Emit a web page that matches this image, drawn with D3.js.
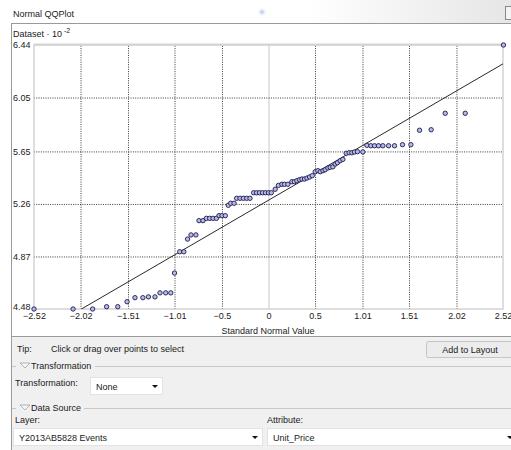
<!DOCTYPE html>
<html>
<head>
<meta charset="utf-8">
<script src="https://cdn.jsdelivr.net/npm/d3@7"></script>
<style>
  body { margin: 0; background: #fff; }
  svg { display: block; font-family: "Liberation Sans", Arial, sans-serif; }
  .grid line { stroke: #3a3a3a; stroke-dasharray: 1,1.3; stroke-width: 1; }
  .grid .zero line { stroke: #c8c8c8; stroke-dasharray: none; }
  .ui { font-size: 9px; fill: #1a1a1a; }
</style>
</head>
<body>
<svg id="chart" width="511" height="450"></svg>
<script>
// theoretical normal quantiles (x) and sorted dataset values (y, x 10^-2)
var qx = [-2.52, -2.10, -1.89, -1.74, -1.62, -1.52, -1.435, -1.35, -1.29, -1.22,
  -1.166, -1.105, -1.05, -1.01, -0.954, -0.91, -0.87, -0.833, -0.78, -0.747,
  -0.704, -0.668, -0.632, -0.596, -0.56, -0.532, -0.50, -0.464, -0.432, -0.406,
  -0.37, -0.342, -0.306, -0.27, -0.234, -0.199, -0.16, -0.128, -0.096, -0.064,
  -0.032, 0.0, 0.03, 0.072, 0.107, 0.144, 0.172, 0.208, 0.251, 0.279,
  0.305, 0.333, 0.359, 0.387, 0.413, 0.441, 0.47, 0.502, 0.531, 0.556,
  0.585, 0.609, 0.638, 0.663, 0.692, 0.717, 0.741, 0.77, 0.799, 0.835,
  0.867, 0.896, 0.924, 0.956, 1.014, 1.057, 1.10, 1.139, 1.182, 1.229,
  1.29, 1.354, 1.44, 1.53, 1.623, 1.748, 1.899, 2.114, 2.525];
var qy = [4.48, 4.48, 4.48, 4.497, 4.497, 4.534, 4.564, 4.564, 4.57, 4.57,
  4.60, 4.60, 4.60, 4.747, 4.905, 4.905, 4.999, 5.03, 5.03, 5.136,
  5.136, 5.153, 5.153, 5.153, 5.153, 5.173, 5.173, 5.173, 5.25, 5.265,
  5.265, 5.302, 5.302, 5.302, 5.302, 5.302, 5.343, 5.343, 5.343, 5.343,
  5.343, 5.343, 5.343, 5.369, 5.398, 5.406, 5.406, 5.406, 5.425, 5.425,
  5.432, 5.44, 5.445, 5.445, 5.452, 5.46, 5.47, 5.499, 5.507, 5.499,
  5.507, 5.514, 5.527, 5.532, 5.536, 5.556, 5.566, 5.581, 5.591, 5.636,
  5.64, 5.64, 5.646, 5.648, 5.646, 5.695, 5.692, 5.692, 5.692, 5.692,
  5.692, 5.692, 5.70, 5.70, 5.807, 5.811, 5.933, 5.933, 6.44];

// reference line endpoints
var refX = [-2.52, 2.52];
var refY = [4.275, 6.30];

var xTicks = [-2.52, -2.02, -1.51, -1.01, -0.5, 0, 0.5, 1.01, 1.51, 2.02, 2.52];
var yTicks = [4.48, 4.87, 5.26, 5.65, 6.05, 6.44];

const svg = d3.select("#chart");

// ---- window chrome ----
const defs = svg.append("defs");
const hg = defs.append("linearGradient").attr("id", "hdr");
hg.append("stop").attr("offset", "0%").attr("stop-color", "#ffffff");
hg.append("stop").attr("offset", "60%").attr("stop-color", "#ffffff");
hg.append("stop").attr("offset", "100%").attr("stop-color", "#e6e6e6");
const glow = defs.append("radialGradient").attr("id", "glow");
glow.append("stop").attr("offset", "0%").attr("stop-color", "#aab8f0");
glow.append("stop").attr("offset", "100%").attr("stop-color", "#ffffff").attr("stop-opacity", 0);

svg.append("rect").attr("width", 511).attr("height", 23).attr("fill", "url(#hdr)");
svg.append("circle").attr("cx", 262).attr("cy", 12).attr("r", 5).attr("fill", "url(#glow)");
svg.append("text").attr("class", "ui").attr("font-size", 10).attr("x", 13).attr("y", 17).text("Normal QQPlot");
svg.append("rect").attr("x", 505.5).attr("y", 6.5).attr("width", 8).attr("height", 13)
  .attr("fill", "#f4f4f4").attr("stroke", "#888");

// chart panel
svg.append("rect").attr("x", 11.5).attr("y", 23.5).attr("width", 510).attr("height", 313)
  .attr("fill", "#fff").attr("stroke", "#9a9a9a");
// bottom panel
svg.append("rect").attr("x", 12).attr("y", 337).attr("width", 499).attr("height", 113).attr("fill", "#f0f0f0");
svg.append("line").attr("x1", 11.5).attr("x2", 11.5).attr("y1", 336).attr("y2", 450).attr("stroke", "#9a9a9a");

// ---- plot ----
const pLeft = 34, pRight = 503, pTop = 45, pBottom = 309;
const x = d3.scaleLinear().domain([-2.52, 2.52]).range([pLeft, pRight]);
const y = d3.scaleLinear().domain([4.48, 6.44]).range([pBottom, pTop]);

// grid
svg.append("g").attr("class", "grid")
  .attr("transform", `translate(0,${pBottom})`)
  .call(d3.axisBottom(x).tickValues(xTicks.slice(1, -1)).tickSize(-(pBottom - pTop)).tickFormat(""))
  .call(g => g.select(".domain").remove())
  .call(g => g.selectAll(".tick").classed("zero", d => d === 0));
svg.append("g").attr("class", "grid")
  .attr("transform", `translate(${pLeft},0)`)
  .call(d3.axisLeft(y).tickValues(yTicks.slice(1, -1)).tickSize(-(pRight - pLeft)).tickFormat(""))
  .call(g => g.select(".domain").remove());

// frame
svg.append("rect").attr("x", pLeft).attr("y", pTop).attr("width", pRight - pLeft).attr("height", pBottom - pTop)
  .attr("fill", "none").attr("stroke", "#c8c8c8").attr("stroke-width", 1.2);
svg.append("line").attr("x1", pLeft).attr("x2", pRight).attr("y1", pTop - 0.5).attr("y2", pTop - 0.5)
  .attr("stroke", "#d4d4d4").attr("stroke-width", 2);

// axes labels
svg.append("g")
  .attr("transform", `translate(0,${pBottom})`)
  .call(d3.axisBottom(x).tickValues(xTicks).tickSize(0).tickPadding(4).tickFormat(d => d3.format("")(d)))
  .call(g => g.select(".domain").remove())
  .call(g => g.selectAll("text").attr("font-size", 9).attr("fill", "#1a1a1a")
    .attr("font-family", "Liberation Sans, Arial, sans-serif"));
svg.append("g")
  .attr("transform", `translate(${pLeft},0)`)
  .call(d3.axisLeft(y).tickValues(yTicks).tickSize(0).tickFormat(d => d3.format(".2f")(d)))
  .call(g => g.select(".domain").remove())
  .call(g => g.selectAll("text").attr("x", -21).attr("text-anchor", "start")
    .attr("dy", d => d === yTicks[0] ? "0.1em" : "0.3em")
    .attr("font-size", 9).attr("fill", "#1a1a1a")
    .attr("font-family", "Liberation Sans, Arial, sans-serif"));

const ttl = svg.append("text").attr("class", "ui").attr("x", 13).attr("y", 37);
ttl.append("tspan").text("Dataset · 10");
ttl.append("tspan").attr("dy", -4).attr("font-size", 7).text(" -2");
svg.append("text").attr("class", "ui").attr("x", 268).attr("y", 334)
  .attr("text-anchor", "middle").text("Standard Normal Value");

// reference line
svg.append("clipPath").attr("id", "clip").append("rect")
  .attr("x", pLeft).attr("y", pTop).attr("width", pRight - pLeft).attr("height", pBottom - pTop);
svg.append("line").attr("clip-path", "url(#clip)")
  .attr("x1", x(refX[0])).attr("y1", y(refY[0]))
  .attr("x2", x(refX[1])).attr("y2", y(refY[1]))
  .attr("stroke", "#111").attr("stroke-width", 0.9);

// points
svg.append("g").selectAll("circle")
  .data(qx.map((v, i) => [v, qy[i]]))
  .join("circle")
    .attr("cx", d => x(d[0]))
    .attr("cy", d => y(d[1]))
    .attr("r", 2.2)
    .attr("fill", "#b8b8ea")
    .attr("stroke", "#1c1c4a")
    .attr("stroke-width", 0.9);

// ---- controls ----
svg.append("text").attr("class", "ui").attr("x", 17).attr("y", 352).text("Tip:");
svg.append("text").attr("class", "ui").attr("x", 51).attr("y", 352).text("Click or drag over points to select");
svg.append("rect").attr("x", 426.5).attr("y", 341.5).attr("width", 90).attr("height", 16).attr("rx", 2)
  .attr("fill", "#ececec").attr("stroke", "#c4c4c4");
svg.append("text").attr("class", "ui").attr("x", 470).attr("y", 352.5).attr("text-anchor", "middle").text("Add to Layout");

function section(yy, label, lineStart) {
  svg.append("line").attr("x1", 12).attr("x2", 16).attr("y1", yy + 0.5).attr("y2", yy + 0.5).attr("stroke", "#c8c8c8");
  svg.append("path").attr("d", `M20,${yy - 3}L30,${yy - 3}L25,${yy + 2}Z`)
    .attr("fill", "#f6f6f6").attr("stroke", "#9aa4b4").attr("stroke-width", 0.8);
  svg.append("text").attr("class", "ui").attr("x", 31).attr("y", yy + 3).text(label);
  svg.append("line").attr("x1", lineStart).attr("x2", 511).attr("y1", yy + 0.5).attr("y2", yy + 0.5).attr("stroke", "#c8c8c8");
}
section(366, "Transformation", 95);
section(408, "Data Source", 84);

function dropdown(x0, y0, w, label) {
  svg.append("rect").attr("x", x0 + 0.5).attr("y", y0 + 0.5).attr("width", w).attr("height", 17)
    .attr("fill", "#fff").attr("stroke", "#e2e2e2");
  svg.append("text").attr("class", "ui").attr("x", x0 + 6).attr("y", y0 + 12.5).text(label);
  const ax = x0 + w - 7;
  svg.append("path").attr("d", `M${ax - 3},${y0 + 8}L${ax + 3},${y0 + 8}L${ax},${y0 + 11}Z`).attr("fill", "#111");
}
svg.append("text").attr("class", "ui").attr("x", 15).attr("y", 386).text("Transformation:");
dropdown(90, 377, 72, "None");
svg.append("text").attr("class", "ui").attr("x", 15).attr("y", 423).text("Layer:");
svg.append("text").attr("class", "ui").attr("x", 267).attr("y", 423).text("Attribute:");
dropdown(13, 428, 249, "Y2013AB5828 Events");
dropdown(267, 428, 250, "Unit_Price");
</script>
</body>
</html>
